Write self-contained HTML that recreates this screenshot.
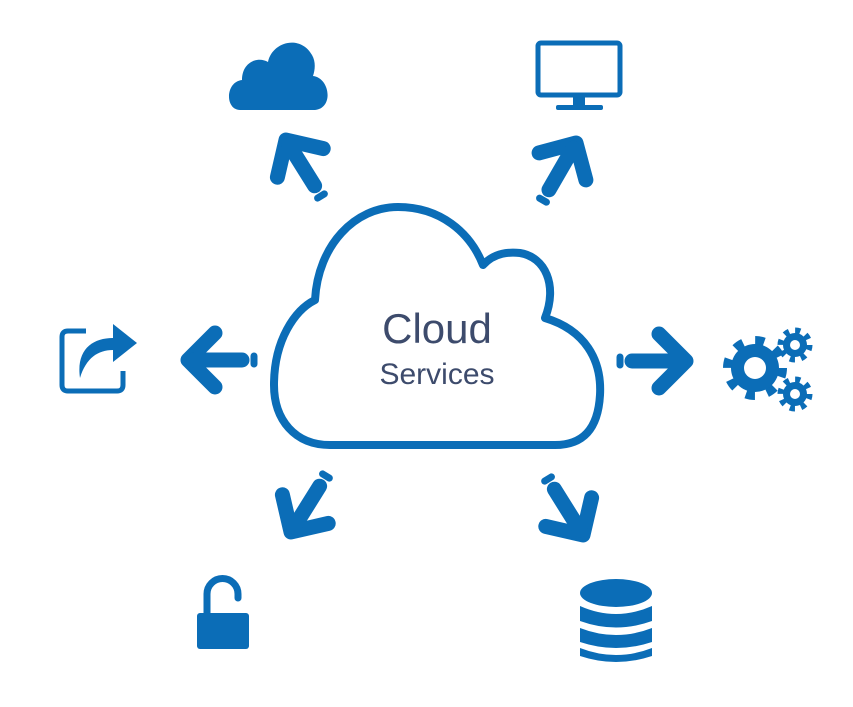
<!DOCTYPE html>
<html><head><meta charset="utf-8"><style>
html,body{margin:0;padding:0;background:#fff;}
svg{display:block;}
</style></head><body>
<svg width="853" height="707" viewBox="0 0 853 707" xmlns="http://www.w3.org/2000/svg">
<defs>
<g id="arr" stroke="#0b6db7" stroke-linecap="round" fill="none">
  <path d="M-27,-27 L0,0 L-27,27" stroke-width="15" stroke-linejoin="round"/>
  <line x1="-6" y1="0" x2="-54" y2="0" stroke-width="15"/>
  <line x1="-66" y1="-4" x2="-66" y2="4" stroke-width="7"/>
</g>
</defs>
<g fill="#0b6db7">
<path d="M315,300 C318,245 355,207 398,207 C440,207 470,232 483,265 C495,252 510,252 520,253 C545,257 558,285 545,318 C585,330 602,360 600,395 C598,430 582,445 555,445 L330,445 C295,445 274,420 274,385 C274,340 295,310 315,300 Z" fill="#fff" stroke="#0b6db7" stroke-width="8" stroke-linejoin="round"/>
<text x="437" y="343" text-anchor="middle" font-family="Liberation Sans, sans-serif" font-size="42" fill="#3d4b6c">Cloud</text>
<text x="437" y="384" text-anchor="middle" font-family="Liberation Sans, sans-serif" font-size="30" fill="#3d4b6c">Services</text>

<use href="#arr" transform="translate(188,360) rotate(180)"/>
<use href="#arr" transform="translate(686,361)"/>
<use href="#arr" transform="translate(286,140) rotate(-122)"/>
<use href="#arr" transform="translate(576,143) rotate(-60)"/>
<use href="#arr" transform="translate(291,532) rotate(122)"/>
<use href="#arr" transform="translate(583,535) rotate(58)"/>

<path d="M240,110 C225,110 225,82 242,80 C242,62 258,56 268,62 C272,42 300,34 312,55 C316,62 315,70 313,76 C330,78 334,108 315,110 Z"/>

<rect x="538" y="43" width="82" height="52" rx="3" fill="none" stroke="#0b6db7" stroke-width="5"/>
<rect x="573" y="95" width="12" height="12"/>
<rect x="556" y="105" width="47" height="5" rx="2"/>

<path d="M86,331 L68,331 Q62,331 62,337 L62,385 Q62,391 68,391 L117,391 Q123,391 123,385 L123,371" fill="none" stroke="#0b6db7" stroke-width="5"/>
<path d="M80,378 C76,350 92,338 113,338 L113,324 L137,343 L113,362 L113,350 C98,350 86,358 80,378 Z"/>

<circle cx="755" cy="368" r="27" fill="none" stroke="#0b6db7" stroke-width="10" stroke-dasharray="9 12.2"/>
<circle cx="755" cy="368" r="24"/>
<circle cx="755" cy="368" r="11" fill="#fff"/>
<circle cx="795" cy="345" r="14" fill="none" stroke="#0b6db7" stroke-width="7" stroke-dasharray="5 6"/>
<circle cx="795" cy="345" r="12"/>
<circle cx="795" cy="345" r="5" fill="#fff"/>
<circle cx="795" cy="394" r="14" fill="none" stroke="#0b6db7" stroke-width="7" stroke-dasharray="5 6"/>
<circle cx="795" cy="394" r="12"/>
<circle cx="795" cy="394" r="5" fill="#fff"/>

<path d="M207,614 L207,594 A15,15 0 0 1 238,594 L238,598" fill="none" stroke="#0b6db7" stroke-width="7" stroke-linecap="round"/>
<rect x="197" y="613" width="52" height="36" rx="3"/>

<ellipse cx="616" cy="593" rx="36" ry="14"/>
<path d="M580,606 Q616,622 652,606 L652,621 Q616,634 580,621 Z"/>
<path d="M580,628 Q616,642 652,628 L652,642 Q616,654 580,642 Z"/>
<path d="M580,648 Q616,662 652,648 L652,656 Q616,668 580,656 Z"/>
</g>
</svg>
</body></html>
